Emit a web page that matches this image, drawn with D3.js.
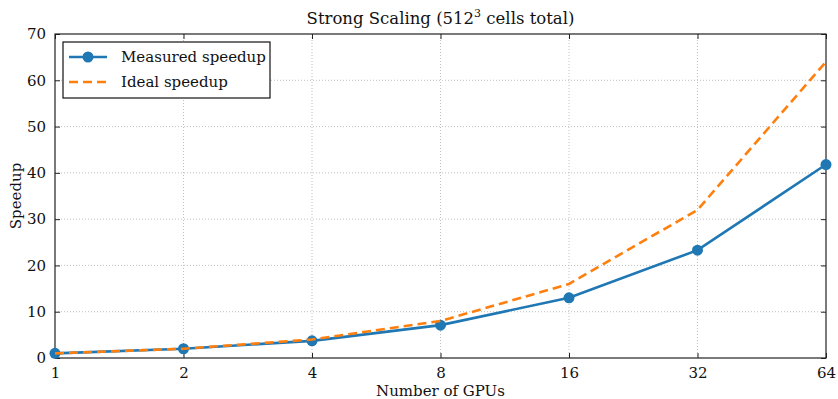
<!DOCTYPE html>
<html>
<head>
<meta charset="utf-8">
<script src="https://cdn.jsdelivr.net/npm/d3@7"></script>
<style>
  body { margin: 0; background: #fff; }
</style>
</head>
<body>
<div id="chart"></div>
<script>
// data
const gpus = [1, 2, 4, 8, 16, 32, 64];
const measured = [1.0, 2.0, 3.7, 7.1, 13.0, 23.3, 41.8];
const ideal = [1, 2, 4, 8, 16, 32, 64];
const yTicks = [0, 10, 20, 30, 40, 50, 60, 70];

const FONT = "'DejaVu Serif', 'Liberation Serif', serif";
const width = 838, height = 399;
const margin = { top: 34, right: 12, bottom: 41, left: 55 };
const w = width - margin.left - margin.right;
const h = height - margin.top - margin.bottom;

const svg = d3.select("#chart").append("svg")
  .attr("width", width).attr("height", height)
  .style("font-family", FONT);
const g = svg.append("g").attr("transform", `translate(${margin.left},${margin.top})`);

const x = d3.scaleLog().base(2).domain([1, 64]).range([0, w]);
const y = d3.scaleLinear().domain([0, 70]).range([h, 0]);

// grid
g.append("g").selectAll("line").data(gpus.slice(1, -1)).enter().append("line")
  .attr("x1", d => x(d)).attr("x2", d => x(d)).attr("y1", 0).attr("y2", h)
  .attr("stroke", "#b0b0b0").attr("stroke-width", 0.8).attr("stroke-dasharray", "1,2");
g.append("g").selectAll("line").data(yTicks.slice(1, -1)).enter().append("line")
  .attr("y1", d => y(d)).attr("y2", d => y(d)).attr("x1", 0).attr("x2", w)
  .attr("stroke", "#b0b0b0").attr("stroke-width", 0.8).attr("stroke-dasharray", "1,2");

// axes (ticks inward)
const xAxis = d3.axisBottom(x).tickValues(gpus).tickFormat(d3.format("d"))
  .tickSizeInner(-5).tickSizeOuter(0).tickPadding(9);
const xTop = d3.axisTop(x).tickValues(gpus).tickFormat("").tickSizeInner(-5).tickSizeOuter(0);
const yAxis = d3.axisLeft(y).tickValues(yTicks).tickSizeInner(-5).tickSizeOuter(0).tickPadding(9);
const yRight = d3.axisRight(y).tickValues(yTicks).tickFormat("").tickSizeInner(-5).tickSizeOuter(0);

function styleAxis(sel) {
  sel.attr("font-family", null);
  sel.select(".domain").remove();
  sel.selectAll("line").attr("stroke", "#222").attr("stroke-width", 1);
  sel.selectAll("text").style("font-family", FONT).style("font-size", "15px").attr("fill", "#111");
}
g.append("g").attr("transform", `translate(0,${h})`).call(xAxis).call(styleAxis);
g.append("g").call(xTop).call(styleAxis);
g.append("g").call(yAxis).call(styleAxis);
g.append("g").attr("transform", `translate(${w},0)`).call(yRight).call(styleAxis);

g.append("rect").attr("width", w).attr("height", h)
  .attr("fill", "none").attr("stroke", "#222").attr("stroke-width", 1.2);

// lines
const line = d3.line().x(d => x(d[0])).y(d => y(d[1]));
g.append("path").datum(gpus.map((d, i) => [d, measured[i]]))
  .attr("d", line).attr("fill", "none").attr("stroke", "#1f77b4").attr("stroke-width", 2.6);
g.append("g").selectAll("circle").data(gpus.map((d, i) => [d, measured[i]])).enter()
  .append("circle").attr("cx", d => x(d[0])).attr("cy", d => y(d[1])).attr("r", 5.5)
  .attr("fill", "#1f77b4");
g.append("path").datum(gpus.map((d, i) => [d, ideal[i]]))
  .attr("d", line).attr("fill", "none").attr("stroke", "#ff7f0e").attr("stroke-width", 2.6)
  .attr("stroke-dasharray", "9,5");

// title & labels
const title = svg.append("text").attr("x", margin.left + w / 2).attr("y", 24)
  .attr("text-anchor", "middle").style("font-size", "16.5px").attr("fill", "#111");
title.append("tspan").text("Strong Scaling (512");
title.append("tspan").attr("dy", -7).style("font-size", "11px").text("3");
title.append("tspan").attr("dy", 7).text(" cells total)");

svg.append("text").attr("x", margin.left + w / 2).attr("y", 396)
  .attr("text-anchor", "middle").style("font-size", "15px").attr("fill", "#111").text("Number of GPUs");
svg.append("text").attr("transform", `translate(21,${margin.top + h / 2}) rotate(-90)`)
  .attr("text-anchor", "middle").style("font-size", "15px").attr("fill", "#111").text("Speedup");

// legend
const lg = g.append("g").attr("transform", "translate(8,8)");
lg.append("rect").attr("width", 207).attr("height", 56)
  .attr("fill", "#fff").attr("stroke", "#111").attr("stroke-width", 1.2);
lg.append("line").attr("x1", 6).attr("x2", 44).attr("y1", 15).attr("y2", 15)
  .attr("stroke", "#1f77b4").attr("stroke-width", 2.6);
lg.append("circle").attr("cx", 25).attr("cy", 15).attr("r", 5.5).attr("fill", "#1f77b4");
lg.append("text").attr("x", 58).attr("y", 20).style("font-size", "15px").attr("fill", "#111").text("Measured speedup");
lg.append("line").attr("x1", 6).attr("x2", 44).attr("y1", 40).attr("y2", 40)
  .attr("stroke", "#ff7f0e").attr("stroke-width", 2.6).attr("stroke-dasharray", "9,5");
lg.append("text").attr("x", 58).attr("y", 45).style("font-size", "15px").attr("fill", "#111").text("Ideal speedup");
</script>
</body>
</html>
